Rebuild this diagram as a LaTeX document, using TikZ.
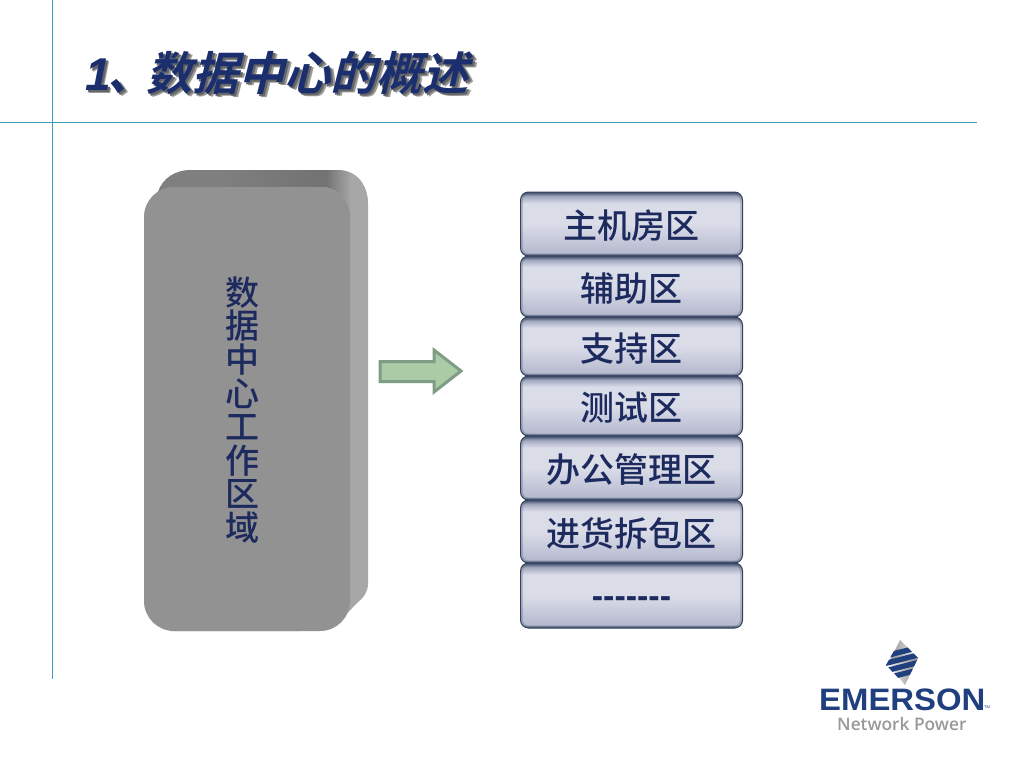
\documentclass[tikz,border=0pt]{standalone}
\usepackage{fontspec}
\setmainfont{Liberation Sans}
\newfontfamily\cjk{Noto Sans CJK SC Medium}
\newfontfamily\cjktitle[FakeSlant=0.25]{Noto Sans CJK SC Bold}
\newfontfamily\lattitle{Liberation Sans Bold Italic}
\newfontfamily\lsbold{Liberation Sans Bold}
\newfontfamily\npfont{Open Sans Semibold}
\definecolor{navytext}{HTML}{1C2A5E}
\definecolor{titleblue}{HTML}{1B2F6E}
\definecolor{ruleblue}{HTML}{3A9FBA}
\definecolor{faceg}{HTML}{929292}
\definecolor{sideg}{HTML}{A7A7A7}
\definecolor{logoblue}{HTML}{1F3F7F}
\definecolor{boxbot}{HTML}{B6BACF}
\definecolor{boxmid}{HTML}{DADCE8}
\definecolor{boxband}{HTML}{A4AAC0}
\definecolor{boxtop}{HTML}{4E5A75}
\definecolor{topa}{HTML}{7F7F7F}
\definecolor{topb}{HTML}{737373}
\definecolor{boxedge}{HTML}{33415F}
\definecolor{arrowedge}{HTML}{7F9C84}
\definecolor{arrowfill}{HTML}{A9CBA6}
\pgfdeclareverticalshading{boxshade}{100bp}{
 color(0bp)=(boxedge);
 color(25bp)=(boxedge);
 color(27.5bp)=(boxbot);
 color(50bp)=(boxmid);
 color(66bp)=(boxmid);
 color(71.5bp)=(boxband);
 color(75bp)=(boxtop);
 color(100bp)=(boxtop)}
\pgfdeclarehorizontalshading{topface}{100bp}{
 color(0bp)=(topa);
 color(40bp)=(topa);
 color(63bp)=(topb);
 color(65bp)=(topb);
 color(71bp)=(sideg);
 color(100bp)=(sideg)}
\tikzset{
 x=1pt,y=-1pt,
 zone/.style={draw=boxedge,line width=1pt,rounded corners=8pt,shading=boxshade,
   minimum width=222pt,inner sep=0pt,text=navytext,font=\cjk\fontsize{34}{34}\selectfont,
   path picture={\draw[boxedge,opacity=.22,line width=5pt,rounded corners=8pt]
     (path picture bounding box.south west) rectangle (path picture bounding box.north east);}},
 titletext/.style={anchor=base west,inner sep=0pt},
 rulel/.style={draw=ruleblue,line width=0.9pt},
 logostripe/.style={fill=logoblue},
}
\newcommand{\titlerun}[1]{\color{#1}{\lattitle\fontsize{46}{46}\selectfont 1}\kern-3pt{\cjktitle\fontsize{46}{46}\selectfont 、\kern-7pt 数据中心的概述}}
\newcommand{\zonetext}[2][-2pt]{\raisebox{#1}[\height][\depth]{#2}}
\begin{document}
\begin{tikzpicture}
\useasboundingbox (0,0) rectangle (1024,768);
\fill[white] (0,0) rectangle (1024,768);
% rules
\draw[rulel] (52,0) -- (52,679);
\draw[rulel] (0,122) -- (977,122);
% title
\node[titletext] (ts2) at (88.5,93.5) {\titlerun{black!40}};
\node[titletext] (ts1) at (87,92) {\titlerun{black!60}};
\node[titletext] (title) at (85,90) {\titlerun{titleblue}};
% left block
\fill[sideg] (158,192) .. controls (163,178) and (175,170) .. (192,170) -- (337,170)
  .. controls (357,170) and (368,185) .. (368,205) -- (368,583)
  .. controls (368,592) and (364,597) .. (357,603) -- (335,626) -- (300,631) -- (170,631) -- cycle;
\shade[shading=topface] (158,192) .. controls (163,178) and (175,170) .. (192,170) -- (337,170)
  .. controls (357,170) and (368,185) .. (368,205) -- (349,217)
  .. controls (349,200) and (338,187) .. (322,187) -- (173,187) -- cycle;
\node[fill=faceg,rounded corners=30pt,minimum width=206pt,minimum height=444pt,inner sep=0pt] (block) at (247,409) {};
\node[text=navytext,align=center,inner sep=0pt,font=\cjk\fontsize{34}{33.6}\selectfont] (blocklabel) at (242,410)
  {数\\据\\中\\心\\工\\作\\区\\域};
% arrow
\draw[draw=arrowedge,fill=arrowfill,line width=3pt,miter limit=6]
  (380,361.5) -- (434,361.5) -- (434,350) -- (461,371) -- (434,392) -- (434,381.5) -- (380,381.5) -- cycle;
% stack
\node[zone,minimum height=64pt] (z1) at (631.5,224) {\zonetext{主机房区}};
\node[zone,minimum height=61pt] (z2) at (631.5,286.5) {\zonetext{辅助区}};
\node[zone,minimum height=59pt] (z3) at (631.5,346.5) {\zonetext{支持区}};
\node[zone,minimum height=60pt] (z4) at (631.5,406) {\zonetext{测试区}};
\node[zone,minimum height=64pt] (z5) at (631.5,468) {\zonetext{办公管理区}};
\node[zone,minimum height=63pt] (z6) at (631.5,531.5) {\zonetext{进货拆包区}};
\node[zone,minimum height=65pt,font=\lsbold\fontsize{34}{34}\selectfont] (z7) at (631.5,595.5) {\zonetext[-7pt]{-------}};
% logo
\shade[left color=black!45,right color=black!5] (900,640) -- (918,658) -- (888,664) -- cycle;
\shade[left color=black!5,right color=black!45] (888,664) -- (918,658) -- (905,685) -- cycle;
\begin{scope}
\clip (900,640) -- (918,658) -- (905,685) -- (886,665) -- cycle;
\fill[logostripe] (880,654.5) -- (925,643) -- (925,648.5) -- (880,660) -- cycle;
\fill[logostripe] (880,662) -- (925,650.5) -- (925,656) -- (880,667.5) -- cycle;
\fill[logostripe] (880,669.5) -- (925,658) -- (925,663.5) -- (880,675) -- cycle;
\fill[logostripe] (880,677) -- (925,665.5) -- (925,671) -- (880,682.5) -- cycle;
\end{scope}
\node[anchor=base west,inner sep=0pt,text=logoblue,font=\lsbold\fontsize{31}{31}\selectfont,xscale=1.06] (brand) at (819,710) {EMERSON};
\node[anchor=base west,inner sep=0pt,text=logoblue,font=\fontsize{4}{4}\selectfont] (tm) at (984,708) {TM};
\node[anchor=base west,inner sep=0pt,text=black!40,font=\npfont\fontsize{17.3}{17.3}\selectfont] (np) at (837,730) {Network Power};
\end{tikzpicture}
\end{document}
